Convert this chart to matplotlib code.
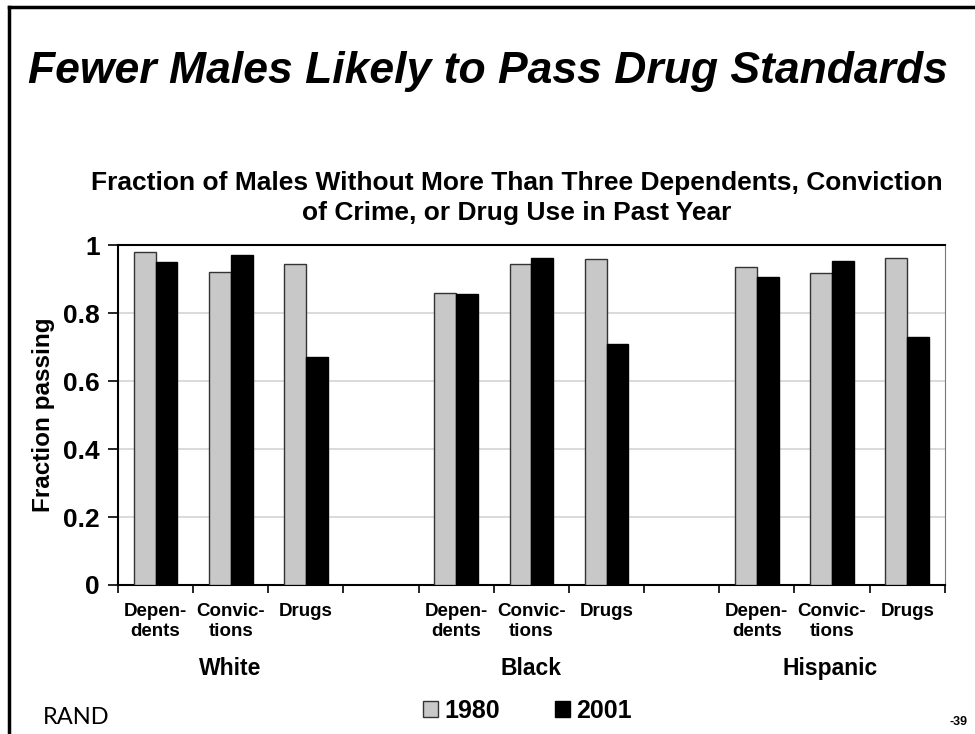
import matplotlib
matplotlib.use('Agg')
import matplotlib.pyplot as plt
from matplotlib.patches import Patch
from matplotlib.lines import Line2D
import numpy as np

plt.rcParams['font.family'] = ['Liberation Sans', 'DejaVu Sans']
plt.rcParams['font.weight'] = 'bold'

# data
groups = ["White", "Black", "Hispanic"]
measures = ["Depen-\ndents", "Convic-\ntions", "Drugs"]
vals_1980 = [0.98, 0.92, 0.945, 0.858, 0.945, 0.96, 0.935, 0.917, 0.962]
vals_2001 = [0.95, 0.97, 0.67, 0.855, 0.962, 0.71, 0.905, 0.953, 0.73]

# slot positions: 3 measures per group, one empty slot between groups
slots = []
for g in range(len(groups)):
    for m in range(len(measures)):
        slots.append(g * 4 + m)
slots = np.array(slots)

fig = plt.figure(figsize=(9.75, 7.34), dpi=100)
ax = fig.add_axes([0.121, 0.203, 0.848, 0.463])

w = 0.29
ax.bar(slots - w / 2, vals_1980, w, color="#c8c8c8", edgecolor="#333333", linewidth=1, zorder=3)
ax.bar(slots + w / 2, vals_2001, w, color="black", edgecolor="black", linewidth=1, zorder=3)

ax.set_xlim(-0.5, 10.5)
ax.set_ylim(0, 1)
ax.set_yticks([0, 0.2, 0.4, 0.6, 0.8, 1])
ax.set_yticklabels(["0", "0.2", "0.4", "0.6", "0.8", "1"], fontsize=19, fontweight="bold")
ax.yaxis.grid(True, color="#d4d4d4", linewidth=1.2, zorder=0)
ax.set_axisbelow(True)

ax.set_xticks(np.arange(-0.5, 11, 1))
ax.set_xticklabels([])
ax.set_xticks(slots, minor=True)
ax.set_xticklabels(measures * 3, minor=True, fontsize=13.5, fontweight="bold", linespacing=1.25)
ax.tick_params(axis="x", which="major", direction="out", length=6, width=1.2)
ax.tick_params(axis="x", which="minor", length=0, pad=13)
ax.tick_params(axis="y", direction="out", length=7, width=1.2, pad=6)

for s in ["left", "bottom"]:
    ax.spines[s].set_linewidth(1.5)
ax.spines["top"].set_linewidth(1.5)
ax.spines["right"].set_color("#777777")

ax.set_ylabel("Fraction passing", fontsize=17.5, fontweight="bold", labelpad=6)

for g, name in enumerate(groups):
    fig.text((118 + 75 * (g * 4 + 1.5)) / 975, 1 - 675 / 734, name,
             ha="center", va="baseline", fontsize=16.5, fontweight="bold")

fig.text(0.5, 1 - 72 / 734, "Fewer Males Likely to Pass Drug Standards",
         ha="center", va="center", fontsize=32, fontweight="bold", style="italic")
fig.text(517 / 975, 1 - 198 / 734,
         "Fraction of Males Without More Than Three Dependents, Conviction\nof Crime, or Drug Use in Past Year",
         ha="center", va="center", fontsize=19, fontweight="bold", linespacing=1.35)

handles = [Patch(facecolor="#c8c8c8", edgecolor="#333333", linewidth=1),
           Patch(facecolor="black", edgecolor="black")]
fig.legend(handles, ["1980", "2001"], loc="center", bbox_to_anchor=(527 / 975, 1 - 711 / 734),
           ncol=2, frameon=False, handlelength=0.6, handleheight=0.6,
           handletextpad=0.25, columnspacing=2.2,
           prop={"size": 18, "weight": "bold"})

fig.text(43 / 975, 1 - 717 / 734, "RAND", ha="left", va="center", fontsize=17,
         fontweight="normal", family="Lato")
fig.text(968 / 975, 1 - 722 / 734, "-39", ha="right", va="center", fontsize=9, fontweight="bold")

# slide frame: left and top edges
fig.add_artist(Line2D([9 / 975, 9 / 975], [0, 1 - 7 / 734], color="black", linewidth=2.5))
fig.add_artist(Line2D([9 / 975, 1], [1 - 7 / 734, 1 - 7 / 734], color="black", linewidth=2.5))

plt.savefig("out.png", dpi=100)
plt.close()
